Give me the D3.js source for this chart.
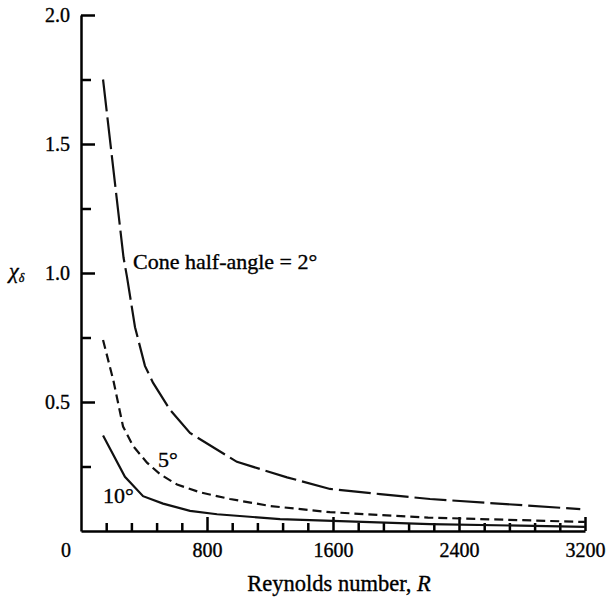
<!DOCTYPE html>
<html>
<head>
<meta charset="utf-8">
<script src="https://cdn.jsdelivr.net/npm/d3@7"></script>
</head>
<body style="margin: 0; background: #fff;">
<svg id="chart" width="607" height="600"></svg>
<script>
// Reynolds number R vs chi_delta, three cone half-angles
const R_2DEG = [140, 270, 292, 343, 406, 457, 565, 692, 990, 1308, 1581, 1899, 2216, 3170]
const CHI_2DEG = [1.75, 1.06, 0.985, 0.79, 0.64, 0.575, 0.47, 0.38, 0.268, 0.208, 0.163, 0.143, 0.124, 0.085]

const R_5DEG = [140, 205, 267, 330, 419, 502, 610, 756, 946, 1200, 1581, 1899, 2204, 3200]
const CHI_5DEG = [0.74, 0.585, 0.405, 0.33, 0.265, 0.22, 0.18, 0.15, 0.124, 0.097, 0.073, 0.062, 0.052, 0.035]

const R_10DEG = [140, 279, 394, 521, 692, 864, 1264, 2216, 3200]
const CHI_10DEG = [0.37, 0.21, 0.135, 0.106, 0.078, 0.065, 0.046, 0.027, 0.016]

const X_MAJOR = [800, 1600, 2400, 3200]
const Y_MAJOR = [0.5, 1.0, 1.5, 2.0]
const Y_MINOR = [0.25, 0.75, 1.25, 1.75]

const FONT = "'Liberation Serif'"

class ConeChart {
  constructor(selSvg) {
    this.svg = d3.select(selSvg)
    this.x = d3.scaleLinear().domain([0, 3200]).range([81, 585])
    this.y = d3.scaleLinear().domain([0, 2]).range([531, 15])
    this.series = [
      {r: R_2DEG, chi: CHI_2DEG, dash: '32,6'},
      {r: R_5DEG, chi: CHI_5DEG, dash: '9,5'},
      {r: R_10DEG, chi: CHI_10DEG, dash: null},
    ]
    this.draw()
  }

  styleAxis(g) {
    g.attr('font-family', null).attr('font-size', null)
    g.selectAll('path, line').style('stroke', '#000').style('stroke-width', 2.5)
    g.selectAll('text')
      .style('font-family', FONT)
      .style('font-size', '20px')
      .style('fill', '#000')
      .style('stroke', '#000')
      .style('stroke-width', 0.35)
  }

  addText(x, y, size) {
    return this.svg.append('text')
      .attr('x', x)
      .attr('y', y)
      .style('font-family', FONT)
      .style('font-size', size + 'px')
      .style('fill', '#000')
      .style('stroke', '#000')
      .style('stroke-width', 0.35)
  }

  drawAxes() {
    const xMinor = d3.range(160, 3200, 160).filter((d) => !X_MAJOR.includes(d))

    this.svg.append('g')
      .attr('transform', `translate(0, ${this.y(0)})`)
      .call(d3.axisBottom(this.x).tickValues(xMinor).tickSize(-8).tickSizeOuter(0).tickFormat(''))
      .call((g) => this.styleAxis(g))
    this.svg.append('g')
      .attr('transform', `translate(0, ${this.y(0)})`)
      .call(d3.axisBottom(this.x).tickValues(X_MAJOR).tickSize(-14).tickSizeOuter(0).tickPadding(12).tickFormat(d3.format('d')))
      .call((g) => g.select('.domain').remove())
      .call((g) => this.styleAxis(g))

    this.svg.append('g')
      .attr('transform', `translate(${this.x(0)}, 0)`)
      .call(d3.axisLeft(this.y).tickValues(Y_MINOR).tickSize(-10).tickSizeOuter(0).tickFormat(''))
      .call((g) => this.styleAxis(g))
    this.svg.append('g')
      .attr('transform', `translate(${this.x(0)}, 0)`)
      .call(d3.axisLeft(this.y).tickValues(Y_MAJOR).tickSize(-14).tickSizeOuter(0).tickPadding(11).tickFormat(d3.format('.1f')))
      .call((g) => g.select('.domain').remove())
      .call((g) => this.styleAxis(g))

    // origin label sits at the corner
    this.addText(this.x(0) - 10, 557, 20)
      .attr('text-anchor', 'end')
      .text('0')

    const xLab = this.addText(339, 591, 22.5).attr('text-anchor', 'middle')
    xLab.append('tspan').text('Reynolds number, ')
    xLab.append('tspan').style('font-style', 'italic').text('R')

    const yLab = this.addText(9, this.y(1) + 5, 22)
    yLab.append('tspan').style('font-style', 'italic').text('χ')
    yLab.append('tspan').style('font-style', 'italic').style('font-size', '12px').attr('dy', 4).text('δ')
  }

  drawCurves() {
    const line = d3.line()
      .x((d) => this.x(d[0]))
      .y((d) => this.y(d[1]))

    this.svg.selectAll('.curve')
      .data(this.series)
      .enter()
      .append('path')
      .attr('class', 'curve')
      .attr('d', (s) => line(d3.zip(s.r, s.chi)))
      .attr('fill', 'none')
      .attr('stroke', '#111')
      .attr('stroke-width', 2.2)
      .attr('stroke-dasharray', (s) => s.dash)
  }

  drawNotes() {
    const notes = [
      {x: 133, y: 269, t: 'Cone half-angle = 2°'},
      {x: 158, y: 467, t: '5°'},
      {x: 103, y: 503, t: '10°'},
    ]
    notes.forEach((d) => this.addText(d.x, d.y, 22).text(d.t))
  }

  draw() {
    this.drawAxes()
    this.drawCurves()
    this.drawNotes()
  }
}

new ConeChart('#chart')
</script>
</body>
</html>
